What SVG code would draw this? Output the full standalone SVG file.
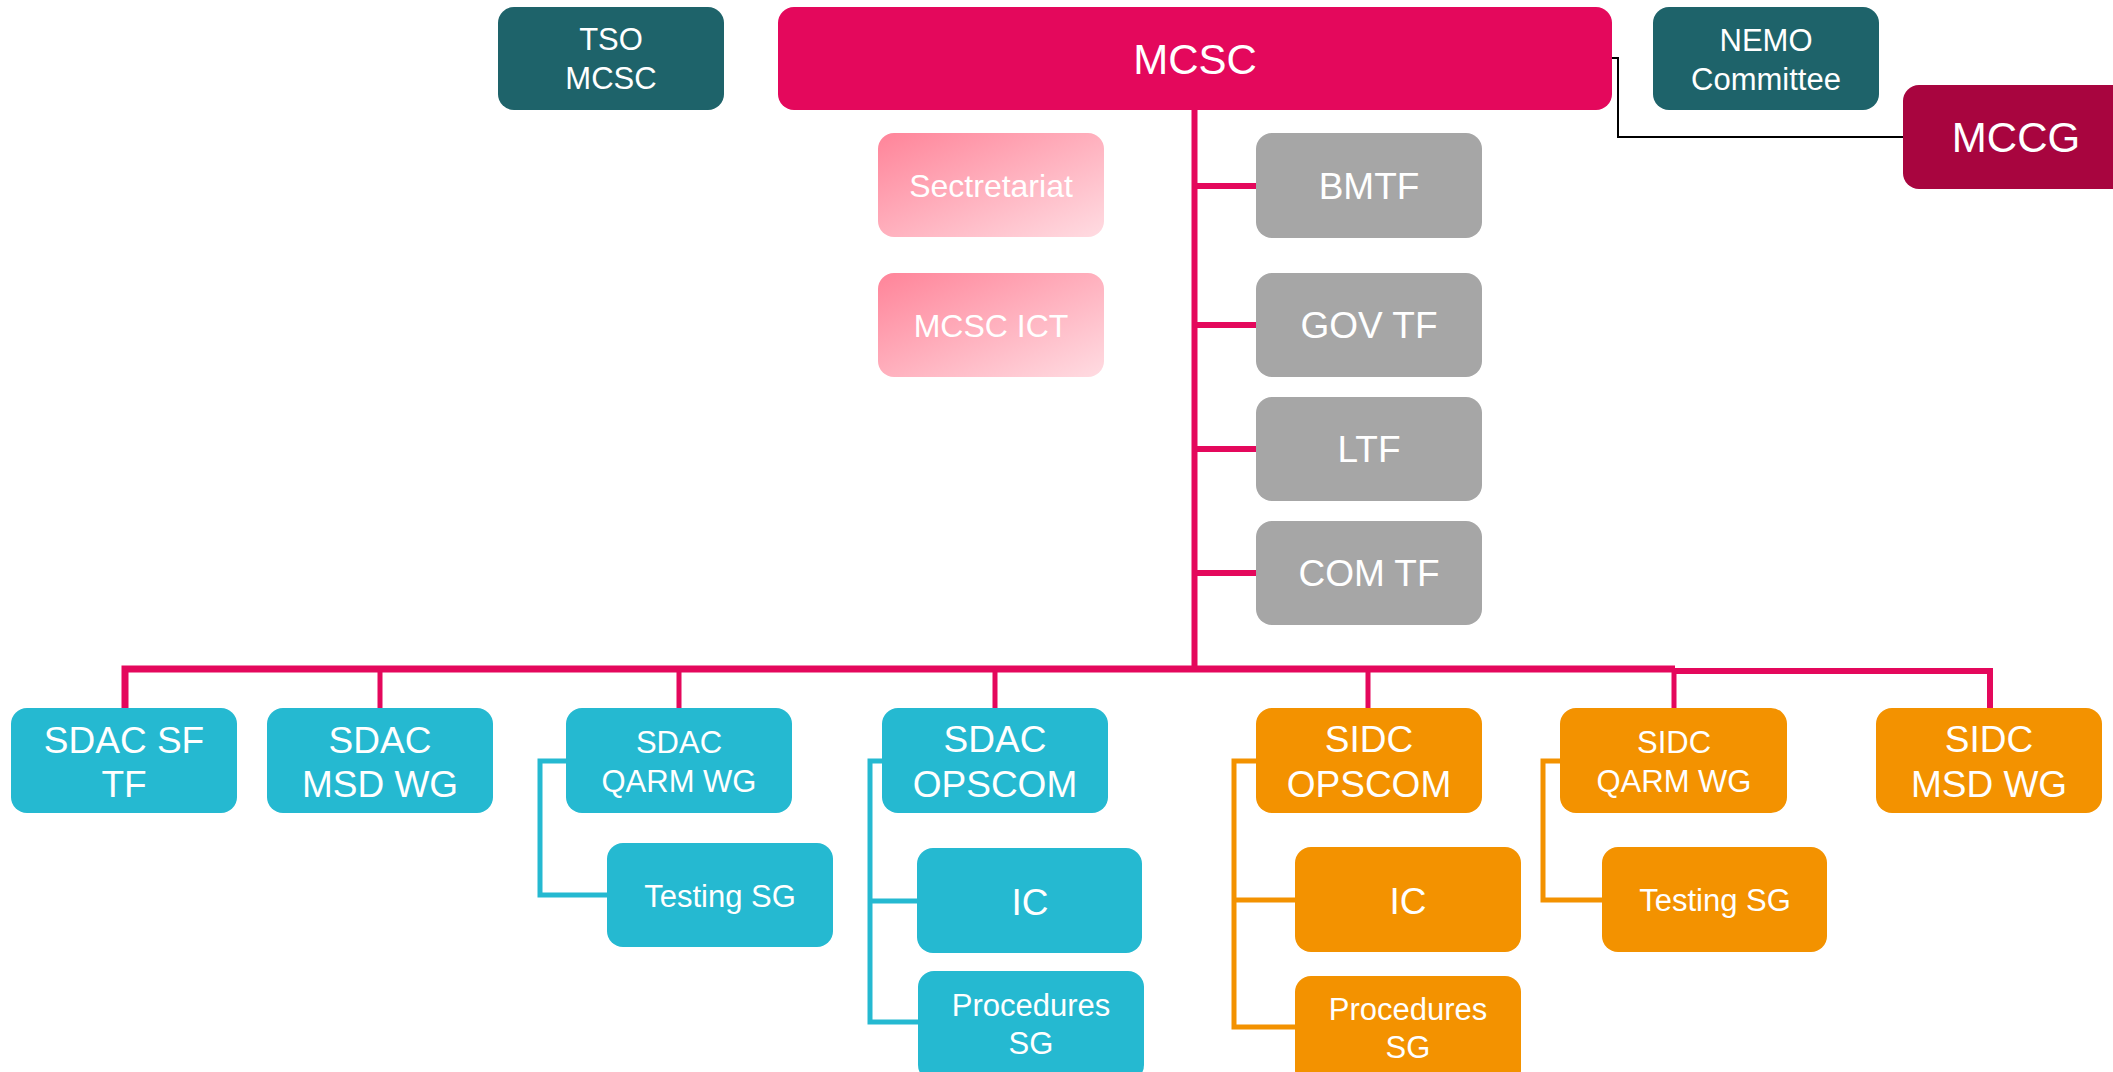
<svg xmlns="http://www.w3.org/2000/svg" width="2113" height="1072" viewBox="0 0 2113 1072">
<defs>
<linearGradient id="pinkGrad" x1="0" y1="0" x2="1" y2="1">
<stop offset="0" stop-color="#FF8499"/>
<stop offset="1" stop-color="#FFDCE2"/>
</linearGradient>
</defs>
<style>
text{font-family:"Liberation Sans",Arial,sans-serif;fill:#FFFFFF;text-anchor:middle}
rect{rx:16px;ry:16px}
.teal{fill:#1E636A}
.mag{fill:#E4085C}
.dmag{fill:#A8053F}
.pink{fill:url(#pinkGrad)}
.gray{fill:#A6A6A6}
.cyan{fill:#25B9D1}
.orange{fill:#F39200}
.bus{fill:none;stroke:#E4085C;stroke-linejoin:miter}
.cl{fill:none;stroke:#25B9D1;stroke-width:5}
.ol{fill:none;stroke:#F39200;stroke-width:5}
.f42{font-size:42px}
.f37{font-size:37px}
.f32{font-size:32px}
.f31{font-size:31px}
</style>
<g id="connectors">
<path class="bus" stroke-width="6" d="M1194.5 110 V669"/>
<path class="bus" stroke-width="6" d="M1194 186 H1256 M1194 325 H1256 M1194 449 H1256 M1194 573 H1256"/>
<path class="bus" stroke-width="7" d="M125 708 V669 H1675"/>
<path class="bus" stroke-width="6" d="M1674 671 H1990 V708"/>
<path class="bus" stroke-width="5" d="M380 669 V708 M679 669 V708 M995 669 V708 M1368 669 V708 M1674 669 V708"/>
<path fill="none" stroke="#000000" stroke-width="2" d="M1612 58 H1618 V137 H1903"/>
<path class="cl" d="M566 761 H540 V895 H607"/>
<path class="cl" d="M883 761 H870 V1022 H918 M870 901 H917"/>
<path class="ol" d="M1256 761 H1234 V1027 H1295 M1234 900 H1295"/>
<path class="ol" d="M1560 761 H1543 V900 H1602"/>
</g>
<g id="tso-mcsc"><rect class="teal" x="498" y="7" width="226" height="103"/><text class="f31" x="611" y="50">TSO</text><text class="f31" x="611" y="89">MCSC</text></g>
<g id="mcsc"><rect class="mag" x="778" y="7" width="834" height="103"/><text class="f42" x="1195" y="74">MCSC</text></g>
<g id="nemo"><rect class="teal" x="1653" y="7" width="226" height="103"/><text class="f31" x="1766" y="51">NEMO</text><text class="f31" x="1766" y="90">Committee</text></g>
<g id="mccg"><rect class="dmag" x="1903" y="85" width="226" height="104"/><text class="f42" x="2016" y="152">MCCG</text></g>
<g id="secretariat"><rect class="pink" x="878" y="133" width="226" height="104"/><text class="f32" x="991" y="197">Sectretariat</text></g>
<g id="mcsc-ict"><rect class="pink" x="878" y="273" width="226" height="104"/><text class="f32" x="991" y="337">MCSC ICT</text></g>
<g id="bmtf"><rect class="gray" x="1256" y="133" width="226" height="105"/><text class="f37" x="1369" y="199">BMTF</text></g>
<g id="gov-tf"><rect class="gray" x="1256" y="273" width="226" height="104"/><text class="f37" x="1369" y="338">GOV TF</text></g>
<g id="ltf"><rect class="gray" x="1256" y="397" width="226" height="104"/><text class="f37" x="1369" y="462">LTF</text></g>
<g id="com-tf"><rect class="gray" x="1256" y="521" width="226" height="104"/><text class="f37" x="1369" y="586">COM TF</text></g>
<g id="sdac-sf-tf"><rect class="cyan" x="11" y="708" width="226" height="105"/><text class="f37" x="124" y="753">SDAC SF</text><text class="f37" x="124" y="797">TF</text></g>
<g id="sdac-msd-wg"><rect class="cyan" x="267" y="708" width="226" height="105"/><text class="f37" x="380" y="753">SDAC</text><text class="f37" x="380" y="797">MSD WG</text></g>
<g id="sdac-qarm-wg"><rect class="cyan" x="566" y="708" width="226" height="105"/><text class="f31" x="679" y="753">SDAC</text><text class="f31" x="679" y="792">QARM WG</text></g>
<g id="sdac-opscom"><rect class="cyan" x="882" y="708" width="226" height="105"/><text class="f37" x="995" y="752">SDAC</text><text class="f37" x="995" y="797">OPSCOM</text></g>
<g id="sidc-opscom"><rect class="orange" x="1256" y="708" width="226" height="105"/><text class="f37" x="1369" y="752">SIDC</text><text class="f37" x="1369" y="797">OPSCOM</text></g>
<g id="sidc-qarm-wg"><rect class="orange" x="1560" y="708" width="227" height="105"/><text class="f31" x="1674" y="753">SIDC</text><text class="f31" x="1674" y="792">QARM WG</text></g>
<g id="sidc-msd-wg"><rect class="orange" x="1876" y="708" width="226" height="105"/><text class="f37" x="1989" y="752">SIDC</text><text class="f37" x="1989" y="797">MSD WG</text></g>
<g id="sdac-testing-sg"><rect class="cyan" x="607" y="843" width="226" height="104"/><text class="f31" x="720" y="907">Testing SG</text></g>
<g id="sdac-ic"><rect class="cyan" x="917" y="848" width="225" height="105"/><text class="f37" x="1030" y="915">IC</text></g>
<g id="sdac-procedures-sg"><rect class="cyan" x="918" y="971" width="226" height="110"/><text class="f31" x="1031" y="1016">Procedures</text><text class="f31" x="1031" y="1054">SG</text></g>
<g id="sidc-ic"><rect class="orange" x="1295" y="847" width="226" height="105"/><text class="f37" x="1408" y="914">IC</text></g>
<g id="sidc-procedures-sg"><rect class="orange" x="1295" y="976" width="226" height="110"/><text class="f31" x="1408" y="1020">Procedures</text><text class="f31" x="1408" y="1058">SG</text></g>
<g id="sidc-testing-sg"><rect class="orange" x="1602" y="847" width="225" height="105"/><text class="f31" x="1715" y="911">Testing SG</text></g>
</svg>
